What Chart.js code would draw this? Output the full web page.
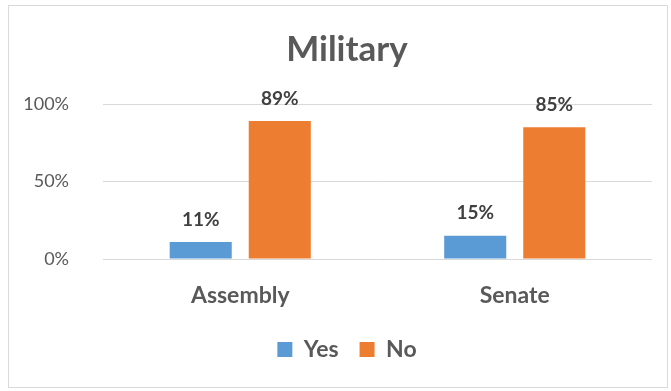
<!DOCTYPE html>
<html>
<head>
<meta charset="utf-8">
<script src="https://cdn.jsdelivr.net/npm/chart.js@4.4.1/dist/chart.umd.min.js"></script>
<style>
  body { margin: 0; background: #fff; }
  #box { position: absolute; left: 8px; top: 5px; width: 658px; height: 381px; border: 1px solid #d9d9d9; }
</style>
</head>
<body>
<div id="box"><canvas id="myChart" width="658" height="381"></canvas></div>
<script>
const chambers = ["Assembly", "Senate"];
const yesValues = [0.11, 0.15];
const noValues = [0.89, 0.85];
const tickValues = [0, 0.5, 1];

const gray = "#595959";

// draws the % labels above each bar
const barLabels = {
  id: "barLabels",
  afterDatasetsDraw(chart) {
    const ctx = chart.ctx;
    ctx.save();
    ctx.font = "bold 19px Lato";
    ctx.fillStyle = "#404040";
    ctx.textAlign = "center";
    ctx.textBaseline = "bottom";
    chart.data.datasets.forEach((ds, i) => {
      chart.getDatasetMeta(i).data.forEach((bar, j) => {
        ctx.fillText(Math.round(ds.data[j] * 100) + "%", bar.x, bar.y - 13);
      });
    });
    ctx.restore();
  }
};

// title and legend sit a bit right of the canvas centre in the original
const nudge = {
  id: "nudge",
  afterLayout(chart) {
    [chart.titleBlock, chart.legend].forEach(b => {
      if (b) { b.left += 33; }
    });
  }
};

new Chart("myChart", {
  type: "bar",
  data: {
    labels: chambers,
    datasets: [
      { label: "Yes", data: yesValues, backgroundColor: "#5B9BD5", categoryPercentage: 0.576, barPercentage: 0.785 },
      { label: "No", data: noValues, backgroundColor: "#ED7D31", categoryPercentage: 0.576, barPercentage: 0.785 }
    ]
  },
  options: {
    responsive: false,
    animation: false,
    layout: { padding: { left: 0, right: 15, top: 10, bottom: 16 } },
    plugins: {
      title: {
        display: true,
        text: "Military",
        color: gray,
        font: { family: "Lato", size: 35, weight: "bold" },
        padding: { top: 13, bottom: 33 }
      },
      legend: {
        position: "bottom",
        labels: {
          color: gray,
          font: { family: "Lato", size: 23, weight: "bold" },
          boxWidth: 15,
          boxHeight: 15,
          padding: 21
        }
      },
      tooltip: { enabled: false }
    },
    scales: {
      x: {
        grid: { display: false },
        border: { display: false },
        ticks: { color: gray, font: { family: "Lato", size: 23, weight: "bold" }, padding: 15 },
        afterFit(scale) { scale.height = 58; }
      },
      y: {
        min: 0,
        max: 1,
        afterBuildTicks(scale) { scale.ticks = tickValues.map(v => ({ value: v })); },
        grid: { color: "#d9d9d9", drawTicks: false },
        border: { display: false },
        ticks: {
          color: gray,
          font: { family: "Lato", size: 18 },
          padding: 34,
          callback: v => Math.round(v * 100) + "%"
        },
        afterFit(scale) { scale.width = 94; }
      }
    }
  },
  plugins: [barLabels, nudge]
});
</script>
</body>
</html>
